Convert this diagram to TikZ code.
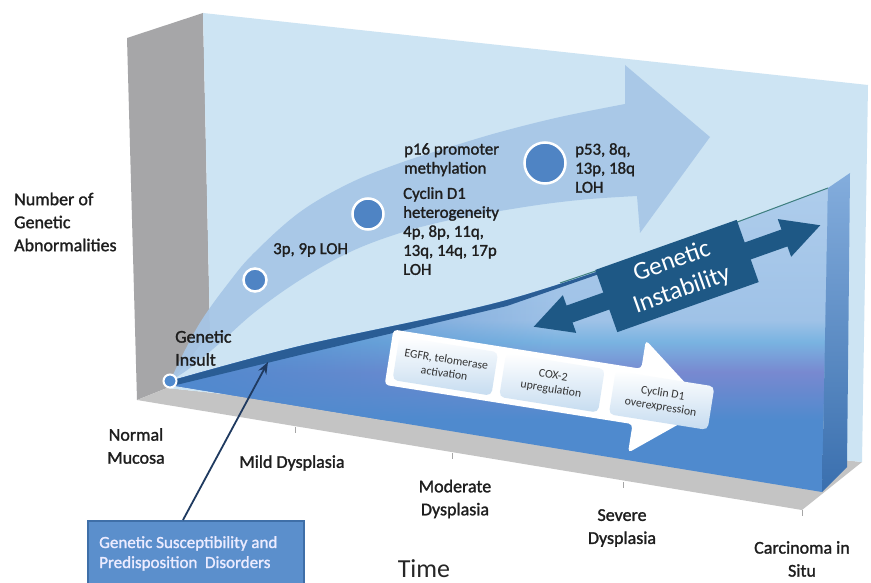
\documentclass[tikz,border=0pt]{standalone}
\usepackage{fontspec}
\setmainfont{Carlito}
\newfontfamily\semib{Carlito}[FakeBold=1.4]
\usetikzlibrary{arrows.meta,fadings}
\definecolor{wallgray}{HTML}{A6A6A8}
\definecolor{floorgray}{HTML}{C4C4C4}
\definecolor{backwall}{HTML}{CDE4F3}
\definecolor{bandblue}{HTML}{A6C6E7}
\definecolor{dotblue}{HTML}{4F84C4}
\definecolor{navy}{HTML}{1E5885}
\definecolor{txt}{HTML}{1E1E1E}
\definecolor{wbase}{HTML}{4F8ACE}
\definecolor{wa}{HTML}{B0CEEC}
\definecolor{wb}{HTML}{9FC2E7}
\definecolor{wc}{HTML}{79B3E1}
\definecolor{wd}{HTML}{7889D0}
\definecolor{stripe}{HTML}{2A5D95}
\definecolor{sideface}{HTML}{3A6FAE}
\definecolor{boxblue}{HTML}{C6DCF0}
\definecolor{suscfill}{HTML}{5B8FCC}
\definecolor{suscline}{HTML}{3F6FA8}
\definecolor{arrowline}{HTML}{1F3A60}
\tikzset{
  lbl/.style={text=txt, font=\semib\fontsize{18}{23}\selectfont, inner sep=0pt},
  note/.style={text=txt, font=\semib\fontsize{16.8}{19}\selectfont, inner sep=0pt, align=left},
  dotnode/.style={circle, fill=dotblue, draw=white, line width=2.5pt, inner sep=0pt},
  stagebox/.style={rectangle, rounded corners=5pt, top color=white, middle color=white, bottom color=boxblue,
     minimum width=100pt, minimum height=44pt, inner sep=1pt, align=center, text=black!80,
     font=\fontsize{11.8}{14}\selectfont, rotate=-9},
}
\begin{document}
\begin{tikzpicture}[x=1pt,y=-1pt]
\useasboundingbox (0,0) rectangle (871,583);
\fill[white] (0,0) rectangle (871,583);
% walls and floor
\fill[wallgray] (127,38) -- (203,13) -- (210,333) -- (167,388) -- (137,400) -- cycle;
\fill[floorgray] (137,400) -- (802,510) -- (862,462) -- (167,388) -- cycle;
\fill[backwall] (203,13) -- (868,85) -- (862,462) -- (167,388) -- (210,333) -- cycle;
% ticks
\foreach \tx/\ty in {295/427, 452/453, 623/482, 802/510}
  \draw[gray!70, line width=0.8pt] (\tx,\ty) -- (\tx,\ty+6);
% big curved arrow
\fill[bandblue, opacity=0.92] plot[smooth, tension=0.6] coordinates {(170,381) (198,326) (230,281) (255,252) (300,212) (350,183) (400,163) (450,147) (500,132) (560,117) (625,104)}
  -- (625,65) -- (710,137) -- (640,233)
  -- plot[smooth, tension=0.6] coordinates {(637,196) (590,199) (545,204) (500,211) (450,220) (400,233) (350,252) (300,280) (255,312) (220,343) (190,368) (170,381)} -- cycle;
% wedge front face
\begin{scope}
\clip plot[smooth, tension=0.5] coordinates {(170,381) (300,346) (507,300) (700,236) (828,188)} -- (822,492) -- (170,385) -- cycle;
\fill[wbase] (150,150) rectangle (860,520);
\shade[top color=wa, bottom color=wb] (150,170) rectangle (860,320);
\shade[top color=wb, bottom color=wc] (150,320) rectangle (860,342);
\shade[top color=wc, bottom color=wd] (150,342) rectangle (860,372);
\shade[top color=wd, bottom color=wbase] (150,372) rectangle (860,420);
\fill[wbase, path fading=east] (160,290) rectangle (560,420);
\fill[stripe] plot[smooth, tension=0.5] coordinates {(170,381) (300,346) (507,300) (700,236)} -- (700,239) -- (507,306) -- (300,355) -- (172,386) -- cycle;
\end{scope}
\draw[teal!50!gray, line width=1pt] (560,283) -- (700,236) -- (828,188);
% wedge side face
\shade[top color=wbase!70!white, middle color=wd!80!sideface, bottom color=sideface] (828,188) -- (850,173) -- (847,467) -- (822,492) -- cycle;
% white process arrow with stages
\begin{scope}[shift={(552,383)}, rotate=-9]
\fill[white, rounded corners=4pt] (-165,-28) -- (86,-28) -- (86,-57) -- (158,0) -- (86,57) -- (86,28) -- (-165,28) -- cycle;
\node[stagebox] (egfr) at (-108,0) {EGFR, telomerase\\activation};
\node[stagebox] (cox) at (0,0) {COX-2\\upregulation};
\node[stagebox] (cyc) at (111,0) {Cyclin D1\\overexpression};
\end{scope}
% genetic instability double arrow
\begin{scope}[shift={(677,276)}, rotate=19.5]
\fill[navy] (-152,0) -- (-114,-20) -- (-114,-9) -- (114,-9) -- (114,-20) -- (152,0) -- (114,20) -- (114,9) -- (-114,9) -- (-114,20) -- cycle;
\fill[navy] (-75,-33) rectangle (75,33);
\node[text=white, font=\fontsize{25.5}{30}\selectfont, align=center, inner sep=0pt, rotate=19.5] (instab) at (0,0) {Genetic\\Instability};
\end{scope}
% dots
\node[circle, fill=wbase, draw=white, line width=2pt, minimum size=13pt, inner sep=0pt] (origin) at (170,381) {};
\node[dotnode, minimum size=23pt] (d1) at (255,280) {};
\node[dotnode, minimum size=31pt] (d2) at (368,214) {};
\node[dotnode, minimum size=41pt] (d3) at (545,163) {};
% notes on the arrow
\node[note, anchor=west] (n1) at (273,250) {3p, 9p LOH};
\node[note, anchor=north west] (n2) at (404,143) {p16 promoter\\methylation};
\node[note, anchor=north west] (n3) at (403,187) {Cyclin D1\\heterogeneity\\4p, 8p, 11q,\\13q, 14q, 17p\\LOH};
\node[note, anchor=north west] (n4) at (575,143) {p53, 8q,\\13p, 18q\\LOH};
% axis labels
\node[lbl, anchor=west, align=left] (yaxis) at (14,222) {Number of\\Genetic\\Abnormalities};
\node[lbl, anchor=west, align=left] (insult) at (175,348) {Genetic\\Insult};
\node[lbl, align=center] (normal) at (136,446) {Normal\\Mucosa};
\node[lbl, align=center] (mild) at (292,463) {Mild Dysplasia};
\node[lbl, align=center] (moderate) at (455,499) {Moderate\\Dysplasia};
\node[lbl, align=center] (severe) at (622,528) {Severe\\Dysplasia};
\node[lbl, align=center] (cis) at (802,559) {Carcinoma in\\Situ};
\node[text=black!85, font=\fontsize{26}{30}\selectfont, inner sep=0pt] (time) at (424,569) {Time};
% susceptibility box
\node[rectangle, fill=suscfill, draw=suscline, line width=1.5pt, anchor=north west, minimum width=216pt, minimum height=80pt] (susc) at (87,520) {};
\node[text=white!92!blue, font=\semib\fontsize{17}{20}\selectfont, align=left, anchor=north west, inner sep=0pt] (susctext) at (99,536) {Genetic Susceptibility and\\Predisposition\ \ Disorders};
\coordinate (suscTop) at (183,520);
\coordinate (insultTip) at (268,362);
\draw[arrowline, line width=1.8pt, -{Stealth[length=12pt, width=9pt]}] (suscTop) -- (insultTip);
\end{tikzpicture}
\end{document}
